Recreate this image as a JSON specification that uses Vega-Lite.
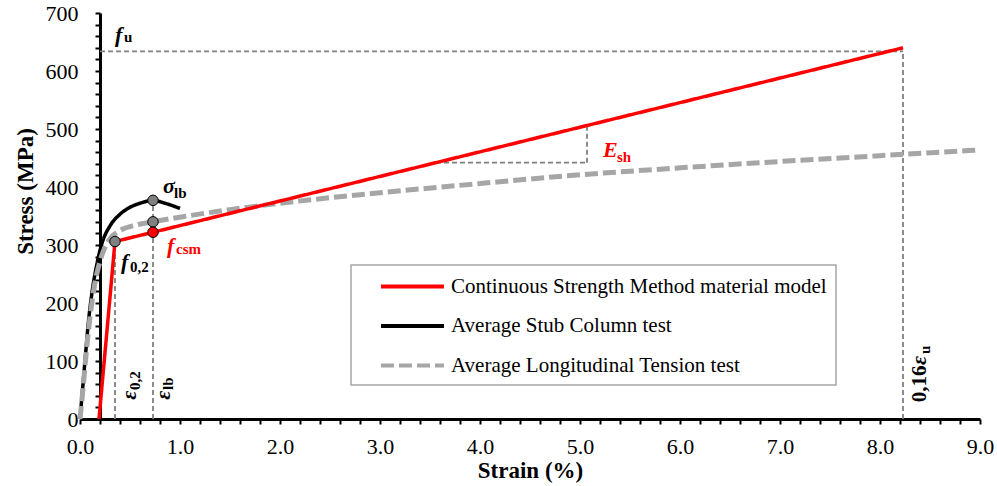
{
  "$schema": "https://vega.github.io/schema/vega-lite/v6.json",
  "autosize": {"type": "none"},
  "width": 900,
  "height": 406,
  "padding": {"left": 80, "top": 13, "right": 17, "bottom": 67},
  "background": "white",
  "datasets": {
    "curves": [
      {"series": "Continuous Strength Method material model", "x": 0.19, "y": 0},
      {"series": "Continuous Strength Method material model", "x": 0.35, "y": 306},
      {"series": "Continuous Strength Method material model", "x": 0.73, "y": 322},
      {"series": "Continuous Strength Method material model", "x": 8.23, "y": 640},
      {"series": "Average Stub Column test", "x": 0, "y": 0},
      {"series": "Average Stub Column test", "x": 0.02, "y": 40},
      {"series": "Average Stub Column test", "x": 0.05, "y": 100},
      {"series": "Average Stub Column test", "x": 0.08, "y": 160},
      {"series": "Average Stub Column test", "x": 0.12, "y": 218},
      {"series": "Average Stub Column test", "x": 0.17, "y": 268},
      {"series": "Average Stub Column test", "x": 0.22, "y": 303},
      {"series": "Average Stub Column test", "x": 0.3, "y": 333},
      {"series": "Average Stub Column test", "x": 0.4, "y": 353},
      {"series": "Average Stub Column test", "x": 0.5, "y": 365},
      {"series": "Average Stub Column test", "x": 0.6, "y": 372},
      {"series": "Average Stub Column test", "x": 0.73, "y": 377},
      {"series": "Average Stub Column test", "x": 0.85, "y": 372},
      {"series": "Average Stub Column test", "x": 1.0, "y": 363},
      {"series": "Average Longitudinal Tension test", "x": 0, "y": 0},
      {"series": "Average Longitudinal Tension test", "x": 0.03, "y": 52},
      {"series": "Average Longitudinal Tension test", "x": 0.06, "y": 110},
      {"series": "Average Longitudinal Tension test", "x": 0.1, "y": 175},
      {"series": "Average Longitudinal Tension test", "x": 0.14, "y": 225},
      {"series": "Average Longitudinal Tension test", "x": 0.2, "y": 272},
      {"series": "Average Longitudinal Tension test", "x": 0.25, "y": 296},
      {"series": "Average Longitudinal Tension test", "x": 0.3, "y": 311},
      {"series": "Average Longitudinal Tension test", "x": 0.4, "y": 325},
      {"series": "Average Longitudinal Tension test", "x": 0.55, "y": 334},
      {"series": "Average Longitudinal Tension test", "x": 0.73, "y": 340},
      {"series": "Average Longitudinal Tension test", "x": 1.0, "y": 348},
      {"series": "Average Longitudinal Tension test", "x": 1.5, "y": 361},
      {"series": "Average Longitudinal Tension test", "x": 2.0, "y": 372},
      {"series": "Average Longitudinal Tension test", "x": 3.0, "y": 390},
      {"series": "Average Longitudinal Tension test", "x": 4.0, "y": 406},
      {"series": "Average Longitudinal Tension test", "x": 5.0, "y": 421},
      {"series": "Average Longitudinal Tension test", "x": 6.0, "y": 433},
      {"series": "Average Longitudinal Tension test", "x": 7.0, "y": 444},
      {"series": "Average Longitudinal Tension test", "x": 8.0, "y": 454},
      {"series": "Average Longitudinal Tension test", "x": 9.0, "y": 464}
    ],
    "guides": [
      {"x": 0.2, "x2": 8.23, "y": 634, "y2": 634},
      {"x": 8.23, "x2": 8.23, "y": 0, "y2": 634},
      {"x": 0.35, "x2": 0.35, "y": 0, "y2": 306},
      {"x": 0.73, "x2": 0.73, "y": 0, "y2": 377},
      {"x": 3.56, "x2": 5.07, "y": 442, "y2": 442},
      {"x": 5.07, "x2": 5.07, "y": 442, "y2": 506}
    ],
    "points": [
      {"x": 0.35, "y": 306, "kind": "test"},
      {"x": 0.73, "y": 340, "kind": "test"},
      {"x": 0.73, "y": 377, "kind": "test"},
      {"x": 0.73, "y": 322, "kind": "csm"}
    ],
    "labels": [
      {"t": "f", "x": 0.35, "y": 650, "role": "mainK"},
      {"t": "u", "x": 0.44, "y": 650, "role": "subK"},
      {"t": "σ", "x": 0.83, "y": 390, "role": "mainK"},
      {"t": "lb", "x": 0.94, "y": 381, "role": "subK"},
      {"t": "f", "x": 0.41, "y": 259, "role": "mainK"},
      {"t": "0,2", "x": 0.5, "y": 253, "role": "subK"},
      {"t": "f", "x": 0.87, "y": 286, "role": "mainR"},
      {"t": "csm", "x": 0.96, "y": 284, "role": "subR"},
      {"t": "E", "x": 5.23, "y": 452, "role": "mainR"},
      {"t": "sh", "x": 5.37, "y": 443, "role": "subR"},
      {"t": "ε", "x": 0.56, "y": 33, "role": "rotMain"},
      {"t": "0,2", "x": 0.6, "y": 50, "role": "rotSub"},
      {"t": "ε", "x": 0.9, "y": 33, "role": "rotMain"},
      {"t": "lb", "x": 0.93, "y": 50, "role": "rotSub"},
      {"t": "0,16", "x": 8.46, "y": 29, "role": "rotPlain"},
      {"t": "ε", "x": 8.46, "y": 93, "role": "rotMain"},
      {"t": "u", "x": 8.5, "y": 112, "role": "rotSub"}
    ]
  },
  "encoding": {
    "x": {
      "field": "x", "type": "quantitative",
      "scale": {"domain": [0, 9], "nice": false, "zero": false},
      "axis": {
        "title": "Strain (%)",
        "values": [0,0.2,0.4,0.6,0.8,1,1.2,1.4,1.6,1.8,2,2.2,2.4,2.6,2.8,3,3.2,3.4,3.6,3.8,4,4.2,4.4,4.6,4.8,5,5.2,5.4,5.6,5.8,6,6.2,6.4,6.6,6.8,7,7.2,7.4,7.6,7.8,8,8.2,8.4,8.6,8.8,9],
        "labelExpr": "abs(datum.value - round(datum.value)) < 0.001 ? format(datum.value, '.1f') : ''",
        "labelFont": "Liberation Serif", "labelFontSize": 22, "labelColor": "black",
        "labelPadding": 12, "labelFlush": false, "labelOverlap": false,
        "domainColor": "black", "domainWidth": 3,
        "tickColor": "black", "tickWidth": 2, "tickSize": 5,
        "grid": false,
        "titleFont": "Liberation Serif", "titleFontSize": 23, "titleFontWeight": "bold", "titleColor": "black",
        "titleBaseline": "alphabetic", "titleY": 58
      }
    },
    "y": {
      "field": "y", "type": "quantitative",
      "scale": {"domain": [0, 700], "nice": false},
      "axis": {
        "title": "Stress (MPa)",
        "offset": -20,
        "values": [0,20,40,60,80,100,120,140,160,180,200,220,240,260,280,300,320,340,360,380,400,420,440,460,480,500,520,540,560,580,600,620,640,660,680,700],
        "labelExpr": "datum.value % 100 === 0 ? datum.label : ''",
        "labelFont": "Liberation Serif", "labelFontSize": 22, "labelColor": "black",
        "labelPadding": 17, "labelOverlap": false, "labelFlush": false,
        "domainColor": "black", "domainWidth": 3,
        "tickColor": "black", "tickWidth": 2, "tickSize": 5,
        "grid": false,
        "titleFont": "Liberation Serif", "titleFontSize": 23, "titleFontWeight": "bold", "titleColor": "black",
        "titleAngle": 270, "titleBaseline": "alphabetic", "titleX": -68, "titleY": 178, "titleAlign": "center"
      }
    }
  },
  "layer": [
    {
      "data": {"name": "guides"},
      "mark": {"type": "rule", "color": "#7f7f7f", "strokeWidth": 1.8, "strokeDash": [5, 3]},
      "encoding": {
        "x2": {"field": "x2"},
        "y2": {"field": "y2"}
      }
    },
    {
      "data": {"name": "curves"},
      "transform": [{"filter": "datum.series === 'Average Stub Column test'"}],
      "mark": {"type": "line", "strokeWidth": 3.5, "interpolate": "monotone"},
      "encoding": {
        "order": {"field": "x", "type": "quantitative"},
        "color": {"field": "series", "type": "nominal", "title": null,
          "scale": {"domain": ["Continuous Strength Method material model", "Average Stub Column test", "Average Longitudinal Tension test"], "range": ["#ff0000", "#000000", "#a6a6a6"]}},
        "strokeDash": {"field": "series", "type": "nominal", "title": null,
          "scale": {"domain": ["Continuous Strength Method material model", "Average Stub Column test", "Average Longitudinal Tension test"], "range": [[1, 0], [1, 0], [13, 5]]}}
      }
    },
    {
      "data": {"name": "curves"},
      "transform": [{"filter": "datum.series === 'Average Longitudinal Tension test'"}],
      "mark": {"type": "line", "strokeWidth": 5, "interpolate": "monotone"},
      "encoding": {
        "order": {"field": "x", "type": "quantitative"},
        "color": {"field": "series", "type": "nominal", "title": null},
        "strokeDash": {"field": "series", "type": "nominal", "title": null}
      }
    },
    {
      "data": {"name": "curves"},
      "transform": [{"filter": "datum.series === 'Continuous Strength Method material model'"}],
      "mark": {"type": "line", "strokeWidth": 3.5},
      "encoding": {
        "order": {"field": "x", "type": "quantitative"},
        "color": {"field": "series", "type": "nominal", "title": null},
        "strokeDash": {"field": "series", "type": "nominal", "title": null}
      }
    },
    {
      "data": {"name": "points"},
      "mark": {"type": "circle", "size": 110, "stroke": "black", "strokeWidth": 1, "opacity": 1},
      "encoding": {
        "fill": {"field": "kind", "type": "nominal", "legend": null,
          "scale": {"domain": ["test", "csm"], "range": ["#808080", "#ff0000"]}}
      }
    },
    {
      "data": {"name": "labels"},
      "transform": [{"filter": "datum.role === 'mainK'"}],
      "mark": {"type": "text", "font": "Liberation Serif", "fontSize": 22, "fontWeight": "bold", "fontStyle": "italic", "color": "black", "align": "left", "baseline": "alphabetic"},
      "encoding": {"text": {"field": "t"}}
    },
    {
      "data": {"name": "labels"},
      "transform": [{"filter": "datum.role === 'subK'"}],
      "mark": {"type": "text", "font": "Liberation Serif", "fontSize": 15, "fontWeight": "bold", "color": "black", "align": "left", "baseline": "alphabetic"},
      "encoding": {"text": {"field": "t"}}
    },
    {
      "data": {"name": "labels"},
      "transform": [{"filter": "datum.role === 'mainR'"}],
      "mark": {"type": "text", "font": "Liberation Serif", "fontSize": 22, "fontWeight": "bold", "fontStyle": "italic", "color": "#ff0000", "align": "left", "baseline": "alphabetic"},
      "encoding": {"text": {"field": "t"}}
    },
    {
      "data": {"name": "labels"},
      "transform": [{"filter": "datum.role === 'subR'"}],
      "mark": {"type": "text", "font": "Liberation Serif", "fontSize": 15, "fontWeight": "bold", "color": "#ff0000", "align": "left", "baseline": "alphabetic"},
      "encoding": {"text": {"field": "t"}}
    },
    {
      "data": {"name": "labels"},
      "transform": [{"filter": "datum.role === 'rotMain'"}],
      "mark": {"type": "text", "font": "Liberation Serif", "fontSize": 22, "fontWeight": "bold", "fontStyle": "italic", "color": "black", "align": "left", "baseline": "alphabetic", "angle": 270},
      "encoding": {"text": {"field": "t"}}
    },
    {
      "data": {"name": "labels"},
      "transform": [{"filter": "datum.role === 'rotPlain'"}],
      "mark": {"type": "text", "font": "Liberation Serif", "fontSize": 21, "fontWeight": "bold", "color": "black", "align": "left", "baseline": "alphabetic", "angle": 270},
      "encoding": {"text": {"field": "t"}}
    },
    {
      "data": {"name": "labels"},
      "transform": [{"filter": "datum.role === 'rotSub'"}],
      "mark": {"type": "text", "font": "Liberation Serif", "fontSize": 15, "fontWeight": "bold", "color": "black", "align": "left", "baseline": "alphabetic", "angle": 270},
      "encoding": {"text": {"field": "t"}}
    }
  ],
  "resolve": {"scale": {"color": "shared", "strokeDash": "shared"}},
  "config": {
    "view": {"stroke": null},
    "font": "Liberation Serif",
    "axis": {"labelOverlap": false},
    "legend": {
      "orient": "none",
      "legendX": 271,
      "legendY": 252,
      "direction": "vertical",
      "symbolType": "M-3,0H3",
      "symbolSize": 441,
      "symbolStrokeWidth": 4,
      "labelFont": "Liberation Serif",
      "labelFontSize": 21,
      "labelColor": "black",
      "labelLimit": 600,
      "labelOffset": 26,
      "strokeColor": "#a6a6a6",
      "strokeWidth": 1.5,
      "fillColor": "white",
      "padding": 9,
      "rowPadding": 16.5,
      "symbolOffset": 40
    }
  }
}
